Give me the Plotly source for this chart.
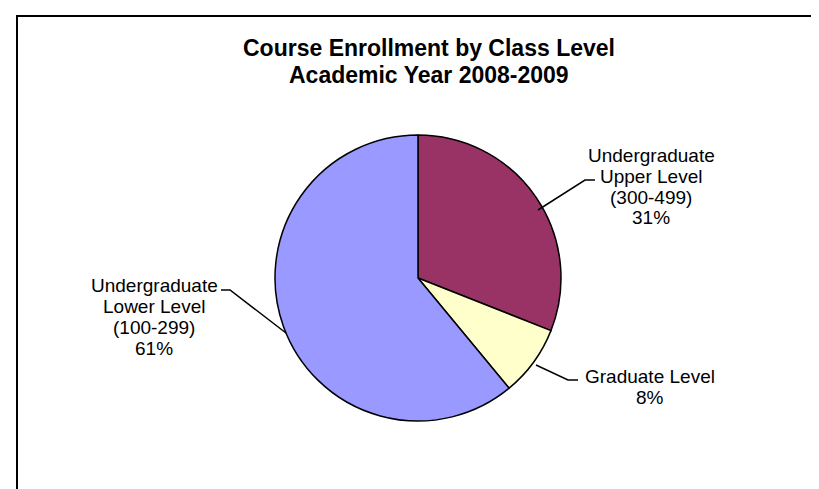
import plotly.graph_objects as go

W, H = 819, 489

categories = ["Undergraduate Upper Level (300-499)", "Graduate Level", "Undergraduate Lower Level (100-299)"]
values = [31, 8, 61]
colors = ["#993366", "#FFFFCC", "#9999FF"]
label_lines = [
    ["Undergraduate", "Upper Level", "(300-499)", "31%"],
    ["Graduate Level", "8%"],
    ["Undergraduate", "Lower Level", "(100-299)", "61%"],
]
title_lines = ["Course Enrollment by Class Level", "Academic Year 2008-2009"]

def px(x):
    return x / W

def py(y):
    return 1 - y / H

cx, cy, r = 410, 270, 143

fig = go.Figure(go.Pie(
    labels=categories,
    values=values,
    sort=False,
    direction="clockwise",
    rotation=0,
    marker=dict(colors=colors, line=dict(color="black", width=1.5)),
    textinfo="none",
    hoverinfo="label+percent",
    showlegend=False,
    domain=dict(x=[px(cx - r), px(cx + r)], y=[py(cy + r), py(cy - r)]),
))

FAM = "Liberation Sans, Arial, sans-serif"
font_lbl = dict(family=FAM, size=19, color="black")

# label layout: center x and per-line y (pixels)
label_layout = [
    (643, [147, 168, 189, 210]),
    (642, [368, 389]),
    (146, [277, 298, 319, 340]),
]
annotations = []
for lines, (x, ys) in zip(label_lines, label_layout):
    for t, y in zip(lines, ys):
        annotations.append(dict(x=px(x), y=py(y), xref="paper", yref="paper", text=t,
                                showarrow=False, font=font_lbl, align="center",
                                xanchor="center", yanchor="middle"))

for t, y in zip(title_lines, [40, 67]):
    annotations.append(dict(x=px(421), y=py(y), xref="paper", yref="paper",
                            text="<b>" + t + "</b>", showarrow=False,
                            xanchor="center", yanchor="middle",
                            font=dict(family=FAM, size=23, color="black")))

def path(points):
    return "M " + " L ".join(f"{px(a)},{py(b)}" for a, b in points)

shapes = [
    dict(type="rect", xref="paper", yref="paper", x0=px(9), y0=py(8), x1=px(840), y1=py(500),
         line=dict(color="black", width=2)),
    dict(type="path", xref="paper", yref="paper", path=path([(530, 202), (577, 172), (587, 172)]),
         line=dict(color="black", width=1.5)),
    dict(type="path", xref="paper", yref="paper", path=path([(528, 357), (560, 372), (570, 372)]),
         line=dict(color="black", width=1.5)),
    dict(type="path", xref="paper", yref="paper", path=path([(278, 325), (222, 282), (213, 282)]),
         line=dict(color="black", width=1.5)),
]

fig.update_layout(width=W, height=H, margin=dict(l=0, r=0, t=0, b=0),
                  paper_bgcolor="white", plot_bgcolor="white",
                  annotations=annotations, shapes=shapes)

fig.write_html("out.html")
